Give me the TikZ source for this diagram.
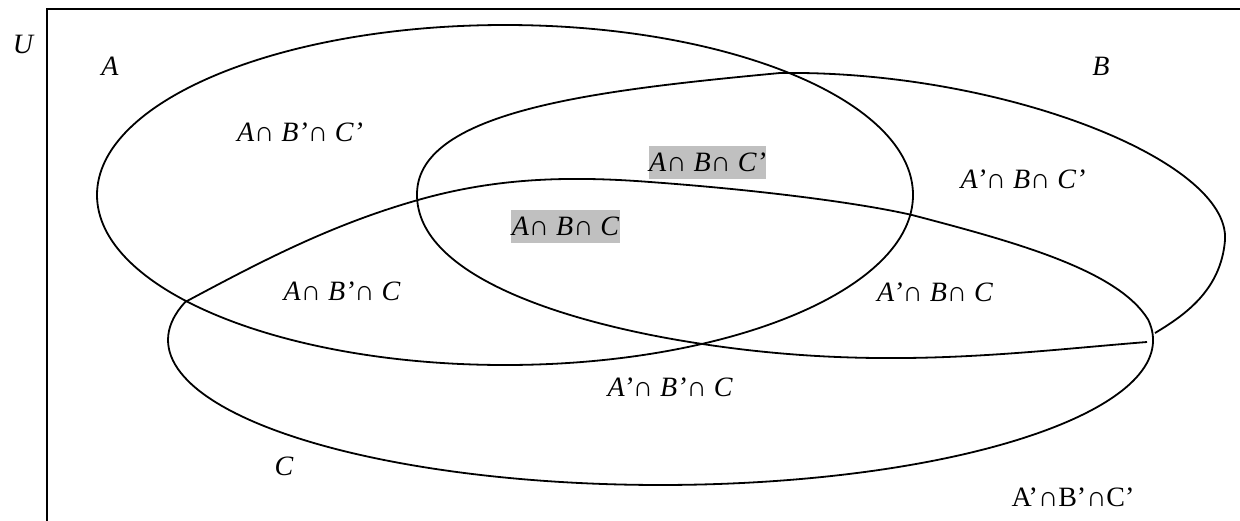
\documentclass[tikz,border=0pt]{standalone}
\usepackage{fontspec}
\setmainfont{Liberation Serif}
\begin{document}
\begin{tikzpicture}[x=0.5pt,y=-0.5pt,
  curve/.style={line width=0.9pt},
  frameline/.style={line width=0.7pt},
  lab/.style={font=\fontsize{14}{16}\selectfont\itshape, anchor=base, inner sep=0pt},
  hilab/.style={lab, fill=hl, text height=12pt, text depth=3.5pt, inner xsep=0.3pt, inner ysep=0.5pt}]
\definecolor{hl}{RGB}{192,192,192}
\useasboundingbox (0,0) rectangle (1240,520);
% universe frame
\coordinate (fbl) at (47,521);
\coordinate (ftl) at (47,9);
\coordinate (ftr) at (1241,9);
\draw[frameline] (fbl) -- (ftl) -- (ftr);
% set A
\draw[curve] (505,195) ellipse[x radius=408, y radius=170];
% set B
\draw[curve] (1147,342) .. controls (1020,352) and (880,372) .. (696,343)
  .. controls (580,325) and (415,280) .. (417,193)
  .. controls (419,110) and (600,90) .. (780,73);
\draw[curve] (780,73) .. controls (1000,70) and (1230,160) .. (1225,240)
  .. controls (1221,290) and (1185,315) .. (1155,333);
% set C
\draw[curve] (185.2,302) .. controls (260,262) and (330,225) .. (418,200)
  .. controls (490,179.5) and (560,175) .. (650,182)
  .. controls (760,190) and (860,203) .. (912,215)
  .. controls (1015,242) and (1118,270) .. (1148.2,319.8)
  arc[start angle=-8, end angle=195.2, x radius=492.5, y radius=145] -- cycle;
% labels
\node[lab] (lU) at (23,53) {U};
\node[lab] (lA) at (110,75) {A};
\node[lab] (lB) at (1101,75) {B};
\node[lab] (lC) at (284,475) {C};
\node[lab] (abpcp) at (300,141) {A∩ B’∩ C’};
\node[hilab] (abcp) at (707.5,171) {A∩ B∩ C’};
\node[lab] (apbcp) at (1023,188) {A’∩ B∩ C’};
\node[hilab] (abc) at (565.5,235) {A∩ B∩ C};
\node[lab] (abpc) at (342,300) {A∩ B’∩ C};
\node[lab] (apbc) at (935,301) {A’∩ B∩ C};
\node[lab] (apbpc) at (670,396) {A’∩ B’∩ C};
\node[lab, font=\fontsize{14}{16}\selectfont\upshape] (apbpcp) at (1073,506) {A’∩B’∩C’};
\end{tikzpicture}
\end{document}
